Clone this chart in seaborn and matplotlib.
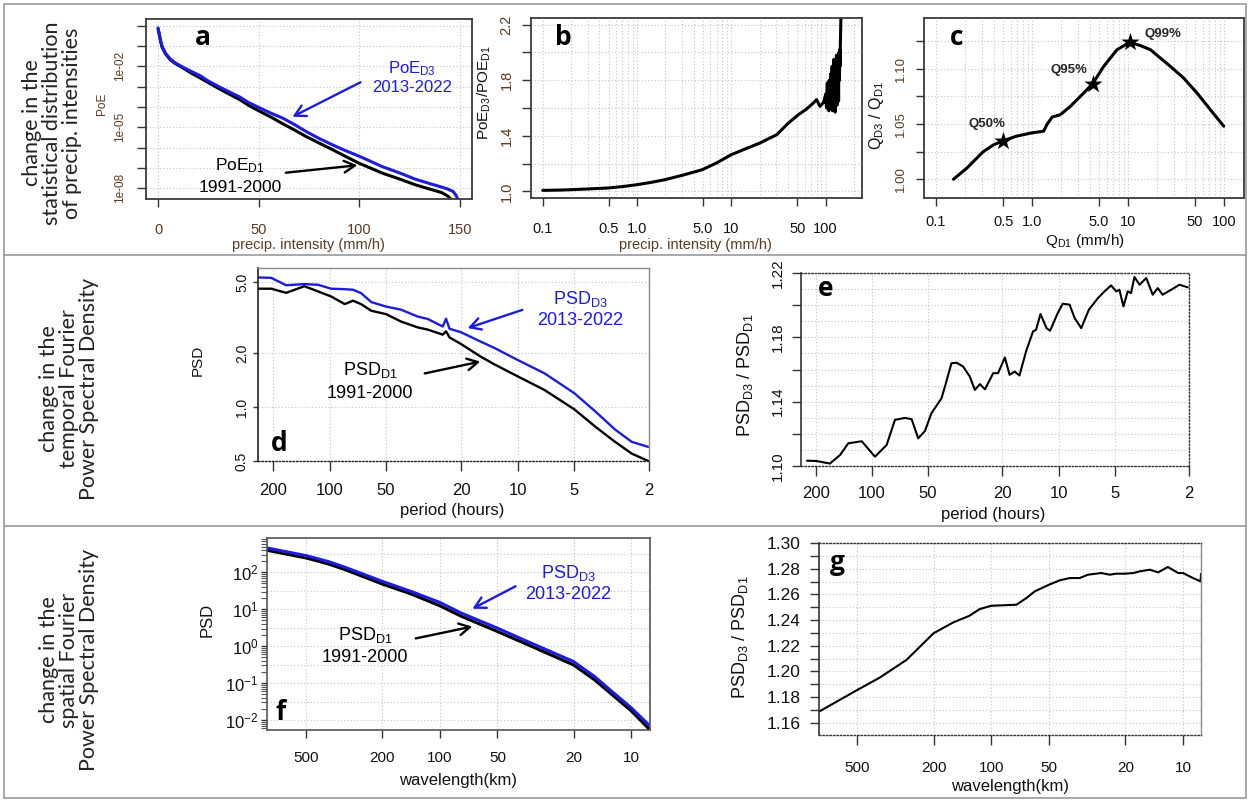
import matplotlib
matplotlib.use("Agg")
import matplotlib.pyplot as plt
import seaborn as sns
from matplotlib.ticker import FixedLocator, FixedFormatter, NullFormatter
from matplotlib.patches import FancyArrowPatch, Rectangle
from matplotlib.lines import Line2D

# ------------------------------------------------------------------ data
# (a) probability of exceedance vs precipitation intensity (mm/h)
a_x_d1 = [0, 0.5, 1.15, 2.0, 3.6, 6.1, 8.6, 11.1, 16, 20.9, 25, 30.7, 35, 40.6, 45, 50, 56, 62, 68,
          73.5, 80, 86.7, 93, 100.3, 106, 111.3, 120, 127.8, 135, 140.9, 144.2, 145.9]
a_poe_d1 = [0.70, 0.40, 0.19, 0.089, 0.043, 0.021, 0.0138, 0.0100, 5.0e-3, 2.7e-3, 1.58e-3, 7.6e-4,
            4.5e-4, 2.3e-4, 1.2e-4, 6.5e-5, 3.2e-5, 1.48e-5, 7.1e-6, 3.5e-6, 1.66e-6, 7.8e-7, 3.7e-7,
            1.6e-7, 9.3e-8, 5.5e-8, 2.8e-8, 1.45e-8, 8.9e-9, 6.0e-9, 3.9e-9, 2.5e-9]
a_x_d3 = [0, 0.5, 1.15, 2.0, 3.6, 6.1, 8.6, 11.1, 16, 20.9, 25, 30.7, 35, 40.6, 45, 50, 56, 62, 68,
          73.5, 80, 86.7, 93, 100.3, 106, 111.3, 120, 127.8, 135, 140.9, 144, 146.6, 148, 149.2]
a_poe_d3 = [0.79, 0.45, 0.21, 0.098, 0.046, 0.023, 0.0148, 0.0107, 6.0e-3, 3.5e-3, 1.9e-3, 9.5e-4,
            5.8e-4, 3.1e-4, 1.66e-4, 9.5e-5, 5.0e-5, 2.8e-5, 1.32e-5, 6.2e-6, 2.8e-6, 1.35e-6, 7.1e-7,
            3.6e-7, 2.0e-7, 1.15e-7, 5.6e-8, 2.75e-8, 1.66e-8, 1.12e-8, 8.9e-9, 6.8e-9, 4.5e-9, 2.5e-9]

# (b) PoE ratio D3/D1 vs intensity
b_x = [0.1, 0.15, 0.2, 0.3, 0.49, 0.7, 1.0, 1.4, 1.98, 3.0, 4.92, 7.0, 10, 14, 20.1, 30.3, 40, 51.4,
       62, 74, 80, 87, 95, 100, 102, 104, 105, 106, 108, 109, 110, 112, 113, 114, 116, 117, 118, 120,
       121, 122, 124, 125, 126, 128, 129, 130, 132, 133, 134, 136, 137, 138, 140, 141, 142, 143, 144,
       145, 146]
b_ratio = [1.007, 1.009, 1.012, 1.017, 1.024, 1.034, 1.048, 1.064, 1.084, 1.115, 1.156, 1.205, 1.264,
           1.305, 1.348, 1.408, 1.49, 1.552, 1.59, 1.636, 1.66, 1.612, 1.64, 1.70, 1.60, 1.78, 1.62,
           1.72, 1.58, 1.80, 1.65, 1.76, 1.60, 1.85, 1.62, 1.90, 1.58, 1.82, 1.66, 1.95, 1.60, 1.88,
           1.57, 1.92, 1.70, 1.98, 1.62, 1.86, 1.75, 1.96, 1.65, 2.00, 1.80, 2.02, 1.90, 2.05, 2.15,
           2.25, 2.32]

# (c) quantile ratio D3/D1 vs quantile D1
c_q = [0.152, 0.209, 0.311, 0.395, 0.495, 0.69, 1.0, 1.32, 1.43, 1.62, 1.97, 2.51, 3.45, 4.28, 5.58,
       7.68, 10.4, 13.5, 17.1, 27.6, 38, 52.4, 72, 99.3]
c_ratio = [1.0, 1.010, 1.025, 1.031, 1.0347, 1.039, 1.042, 1.0435, 1.0495, 1.0563, 1.0584, 1.066,
           1.078, 1.0865, 1.1022, 1.1173, 1.124, 1.121, 1.1173, 1.1022, 1.0916, 1.078, 1.063, 1.048]
c_mark_q = [0.495, 4.28, 10.4]
c_mark_ratio = [1.0347, 1.0865, 1.124]
c_mark_labels = ["Q50%", "Q95%", "Q99%"]

# (d) temporal PSD vs period (hours)
d_period = [238, 204, 170, 136, 115, 98, 83, 75, 68, 60, 50, 41.7, 34, 30, 25, 24, 23, 20, 15.7, 13.3,
            10, 7.2, 5, 3.87, 3.03, 2.47, 2.02]
d_psd_d1 = [4.61, 4.61, 4.37, 4.76, 4.45, 4.17, 3.78, 3.95, 3.78, 3.47, 3.32, 3.02, 2.80, 2.72, 2.55,
            2.66, 2.46, 2.26, 1.92, 1.74, 1.49, 1.25, 0.975, 0.78, 0.64, 0.55, 0.50]
d_psd_d3 = [5.33, 5.30, 4.82, 4.89, 4.85, 4.61, 4.58, 4.55, 4.36, 3.88, 3.66, 3.52, 3.22, 3.12, 2.83,
            3.13, 2.75, 2.63, 2.33, 2.15, 1.84, 1.55, 1.20, 0.95, 0.75, 0.64, 0.60]

# (e) temporal PSD ratio vs period
e_period = [223, 198, 168, 148, 134, 113.5, 96.3, 83.4, 75.3, 66.6, 61.3, 56.5, 52, 48, 42.4, 40.4,
            37.5, 35.2, 32.5, 29.9, 28.1, 26.4, 24.8, 22.4, 21.1, 19.4, 18.3, 17.2, 16.2, 14.9, 13.7,
            13.2, 12.5, 11.6, 11.1, 10.1, 9.5, 8.73, 8.2, 7.56, 6.88, 6.15, 5.67, 5.23, 4.91, 4.72,
            4.49, 4.26, 4.09, 3.92, 3.68, 3.39, 3.13, 2.94, 2.77, 2.49, 2.25, 2.03]
e_ratio = [1.1033, 1.1031, 1.1015, 1.1069, 1.1141, 1.1154, 1.1058, 1.1131, 1.1287, 1.1299, 1.1291,
           1.1172, 1.1218, 1.1328, 1.1421, 1.1504, 1.1639, 1.1642, 1.1619, 1.1556, 1.1473, 1.1509,
           1.1477, 1.1577, 1.1577, 1.1675, 1.1567, 1.1587, 1.1563, 1.1716, 1.1837, 1.1847, 1.1945,
           1.1857, 1.1841, 1.1951, 1.2009, 1.2003, 1.1920, 1.1857, 1.1972, 1.2044, 1.2086, 1.2123,
           1.2086, 1.2096, 1.1992, 1.2086, 1.2075, 1.2175, 1.2127, 1.2169, 1.2065, 1.2106, 1.2065,
           1.2096, 1.2127, 1.2111]

# (f) spatial PSD vs wavelength (km)
f_wl = [802, 500, 382, 313, 200, 141, 100, 77, 50, 34.6, 20, 15.5, 12.7, 10, 7.96]
f_psd_d1 = [395, 245, 168, 118, 48.2, 25.8, 12.4, 6.4, 2.5, 1.09, 0.311, 0.122, 0.0508, 0.0179, 0.0054]
f_psd_d3 = [458, 283, 195, 137, 57, 30.2, 15.3, 7.8, 3.08, 1.32, 0.384, 0.150, 0.0617, 0.0216, 0.0069]

# (g) spatial PSD ratio vs wavelength
g_wl = [792, 500, 382, 277, 200, 158, 130, 115, 100, 74, 65.6, 59.4, 50, 44, 39, 34.6, 31.3, 26.7,
        24.1, 22.3, 20, 18.2, 16.8, 14.9, 13.5, 12.0, 10.6, 10, 8.87, 8.1, 8.06]
g_ratio = [1.1686, 1.1855, 1.1951, 1.2089, 1.2297, 1.2381, 1.2433, 1.2485, 1.2511, 1.2519, 1.2571,
           1.2623, 1.2675, 1.2709, 1.2727, 1.2727, 1.2753, 1.2766, 1.2753, 1.2761, 1.2761, 1.2766,
           1.2779, 1.2792, 1.2771, 1.2813, 1.2766, 1.2766, 1.2727, 1.2701, 1.2760]

row_labels = ["change in the\nstatistical distribution\nof precip. intensities",
              "change in the\ntemporal Fourier\nPower Spectral Density",
              "change in the\nspatial Fourier\nPower Spectral Density"]

# ------------------------------------------------------------------ style
sns.set_theme(style="white")
plt.rcParams['font.family'] = ['Liberation Sans', 'DejaVu Sans']
plt.rcParams['mathtext.fontset'] = 'custom'
plt.rcParams['mathtext.rm'] = 'Liberation Sans'
plt.rcParams['mathtext.it'] = 'Liberation Sans:italic'
plt.rcParams['mathtext.bf'] = 'Liberation Sans:bold'

BLUE = '#1c1cdc'
BROWN = '#5a3a22'
GRID = dict(color='#c4c4c4', lw=0.8, ls=(0, (1, 2)))
W, H = 1249, 801
fig = plt.figure(figsize=(W / 100, H / 100), dpi=100)
fig.patch.set_facecolor('white')


def fx(x):
    return x / W


def fy(y):
    return 1 - y / H


def add_ax(l, t, r, b):
    ax = fig.add_axes([l / W, 1 - b / H, (r - l) / W, (b - t) / H])
    ax.set_facecolor('white')
    ax._box = (l, t, r, b)
    return ax


def set_labels(ax, xlabel, xpos, ylabel, ypos, xsize, ysize, xcolor='#111', ycolor='#111'):
    l, t, r, b = ax._box
    ax.set_xlabel(xlabel, fontsize=xsize, color=xcolor)
    ax.xaxis.set_label_coords((xpos[0] - l) / (r - l), (b - xpos[1]) / (b - t))
    ax.xaxis.label.set_va('center')
    ax.set_ylabel(ylabel, fontsize=ysize, color=ycolor)
    ax.yaxis.set_label_coords((ypos[0] - l) / (r - l), (b - ypos[1]) / (b - t))
    ax.yaxis.label.set_va('center')


def rot_yticks(ax):
    for lab in ax.get_yticklabels():
        lab.set_rotation(90)
        lab.set_va('center')
        lab.set_ha('right')


def spines(ax, color='#3a3a3a', lw=1.3):
    for s in ax.spines.values():
        s.set_visible(True)
        s.set_color(color)
        s.set_linewidth(lw)


def panel_letter(s, x, y):
    fig.text(fx(x), fy(y), s, fontsize=19, fontweight='bold', family=['Open Sans', 'DejaVu Sans'],
             ha='left', va='baseline', color='black')


def two_line(x, y1, s1, y2, s2, color, size=13):
    fig.text(fx(x), fy(y1), s1, ha='center', va='baseline', fontsize=size, color=color)
    fig.text(fx(x), fy(y2), s2, ha='center', va='baseline', fontsize=size, color=color)


def arrow(x0, y0, x1, y1, color):
    fig.add_artist(FancyArrowPatch((fx(x0), fy(y0)), (fx(x1), fy(y1)), transform=fig.transFigure,
                                   arrowstyle='->,head_length=0.55,head_width=0.3', mutation_scale=14,
                                   color=color, lw=1.7))


def line(ax, x, y, color, lw):
    sns.lineplot(x=x, y=y, ax=ax, color=color, lw=lw, estimator=None, sort=False)


log_minor_01 = [v * m for m in (0.1, 1, 10, 100) for v in range(1, 10)] + [1000]

# ------------------------------------------------------------------ panel a
ax = add_ax(146, 19, 472, 199)
line(ax, a_x_d1, a_poe_d1, 'black', 2.2)
line(ax, a_x_d3, a_poe_d3, BLUE, 2.2)
ax.set_yscale('log')
ax.set_xlim(-6, 156)
ax.set_ylim(10 ** -8.54, 10 ** 0.34)
ax.xaxis.set_major_locator(FixedLocator([0, 50, 100, 150]))
ydec = [10.0 ** k for k in range(-8, 1)]
ax.yaxis.set_major_locator(FixedLocator(ydec))
ax.yaxis.set_major_formatter(FixedFormatter(['1e-08' if k == -8 else '1e-05' if k == -5 else
                                             '1e-02' if k == -2 else '' for k in range(-8, 1)]))
ax.yaxis.set_minor_locator(FixedLocator([]))
ax.grid(True, which='major', **GRID)
spines(ax)
ax.tick_params(axis='x', direction='out', length=6, width=1, color='#333', labelsize=10.5,
               labelcolor=BROWN, pad=11, bottom=True)
ax.tick_params(axis='y', direction='out', length=6.5, width=1, color='#333', labelsize=8.5,
               labelcolor=BROWN, pad=8, left=True)
rot_yticks(ax)
set_labels(ax, 'precip. intensity (mm/h)', (308, 245), 'PoE', (102, 104), 10.5, 8.5, BROWN, BROWN)
panel_letter('a', 195, 45)
two_line(412, 73, r'PoE$_{\mathrm{D3}}$', 92, '2013-2022', BLUE, 12)
arrow(363, 81, 290, 118, BLUE)
two_line(240, 170, r'PoE$_{\mathrm{D1}}$', 192, '1991-2000', 'black', 12.5)
arrow(283, 173, 360, 165, 'black')

# ------------------------------------------------------------------ panel b
logticks = [0.1, 0.5, 1, 5, 10, 50, 100]
logtick_labels = ['0.1', '0.5', '1.0', '5.0', '10', '50', '100']
ax = add_ax(531, 18, 862, 198)
line(ax, b_x, b_ratio, 'black', 2.2)
ax.set_xscale('log')
ax.set_xlim(10 ** -1.124, 10 ** 2.385)
ax.set_ylim(0.952, 2.248)
ax.xaxis.set_major_locator(FixedLocator(logticks))
ax.xaxis.set_major_formatter(FixedFormatter(logtick_labels))
ax.xaxis.set_minor_locator(FixedLocator(log_minor_01))
ax.xaxis.set_minor_formatter(NullFormatter())
ax.yaxis.set_major_locator(FixedLocator([1.0, 1.2, 1.4, 1.6, 1.8, 2.0, 2.2]))
ax.yaxis.set_major_formatter(FixedFormatter(['1.0', '', '1.4', '', '1.8', '', '2.2']))
ax.grid(True, which='both', **GRID)
spines(ax)
ax.tick_params(axis='x', which='major', direction='out', length=6, width=1, color='#333',
               labelsize=10.5, labelcolor='#111', pad=11, bottom=True)
ax.tick_params(axis='x', which='minor', length=0)
ax.tick_params(axis='y', direction='out', length=6.5, width=1, color='#333', labelsize=10.5,
               labelcolor=BROWN, pad=6, left=True)
rot_yticks(ax)
set_labels(ax, 'precip. intensity (mm/h)', (695, 245), r'PoE$_{\mathrm{D3}}$/POE$_{\mathrm{D1}}$',
           (484, 93), 10.5, 11, BROWN, '#111')
panel_letter('b', 555, 45)

# ------------------------------------------------------------------ panel c
ax = add_ax(924, 18, 1244, 198)
line(ax, c_q, c_ratio, 'black', 2.2)
sns.scatterplot(x=c_mark_q, y=c_mark_ratio, ax=ax, marker='*', s=190, color='black', linewidth=0,
                zorder=5)
offsets = [(-16, 17), (-24, 14), (33, 8)]
for q, r, lab, off in zip(c_mark_q, c_mark_ratio, c_mark_labels, offsets):
    ax.annotate(lab, (q, r), xytext=off, textcoords='offset pixels', ha='center', va='center',
                fontsize=9.5, fontweight='bold')
ax.set_xscale('log')
ax.set_xlim(10 ** -1.125, 10 ** 2.208)
ax.set_ylim(0.983, 1.146)
ax.xaxis.set_major_locator(FixedLocator(logticks))
ax.xaxis.set_major_formatter(FixedFormatter(logtick_labels))
ax.xaxis.set_minor_locator(FixedLocator(log_minor_01))
ax.xaxis.set_minor_formatter(NullFormatter())
ax.yaxis.set_major_locator(FixedLocator([1.00, 1.025, 1.05, 1.075, 1.10, 1.125]))
ax.yaxis.set_major_formatter(FixedFormatter(['1.00', '', '1.05', '', '1.10', '']))
ax.grid(True, which='both', **GRID)
spines(ax)
ax.tick_params(axis='x', which='major', direction='out', length=6, width=1, color='#333',
               labelsize=10.5, labelcolor='#111', pad=6, bottom=True)
ax.tick_params(axis='x', which='minor', length=0)
ax.tick_params(axis='y', direction='out', length=6, width=1, color='#333', labelsize=9.5,
               labelcolor=BROWN, pad=6, left=True)
rot_yticks(ax)
set_labels(ax, r'Q$_{\mathrm{D1}}$ (mm/h)', (1085, 241), r'Q$_{\mathrm{D3}}$ / Q$_{\mathrm{D1}}$',
           (877, 115), 11, 11.5)
panel_letter('c', 950, 45)

# ------------------------------------------------------------------ panel d
per_ticks = [200, 100, 50, 20, 10, 5, 2]
ax = add_ax(258, 268, 649, 461)
line(ax, d_period, d_psd_d1, 'black', 1.7)
line(ax, d_period, d_psd_d3, BLUE, 1.7)
ax.set_xscale('log')
ax.set_yscale('log')
ax.set_xlim(240, 2)
ax.set_ylim(0.5, 6.02)
ax.xaxis.set_major_locator(FixedLocator(per_ticks))
ax.xaxis.set_major_formatter(FixedFormatter([str(v) for v in per_ticks]))
ax.xaxis.set_minor_locator(FixedLocator([]))
ax.yaxis.set_major_locator(FixedLocator([0.5, 1.0, 2.0, 5.0]))
ax.yaxis.set_major_formatter(FixedFormatter(['0.5', '1.0', '2.0', '5.0']))
ax.yaxis.set_minor_locator(FixedLocator([]))
ax.grid(True, which='major', **GRID)
spines(ax, '#8a8a8a', 1.0)
ax.spines['left'].set_color('#222')
ax.spines['left'].set_linewidth(1.2)
ax.spines['bottom'].set_color('#222')
ax.spines['bottom'].set_linestyle((0, (1, 1.5)))
ax.tick_params(axis='x', direction='out', length=7.5, width=1, color='#333', labelsize=12,
               labelcolor='#111', pad=8, bottom=True)
ax.tick_params(axis='y', direction='out', length=3.5, width=1, color='#333', labelsize=10,
               labelcolor='#111', pad=3, left=True)
rot_yticks(ax)
set_labels(ax, 'period (hours)', (452, 510), 'PSD', (198, 360), 12, 11)
panel_letter('d', 271, 451)
two_line(580, 304, r'PSD$_{\mathrm{D3}}$', 325, '2013-2022', BLUE, 13)
arrow(525, 309, 465, 329, BLUE)
two_line(370, 375, r'PSD$_{\mathrm{D1}}$', 398, '1991-2000', 'black', 13)
arrow(422, 374, 483, 361, 'black')

# ------------------------------------------------------------------ panel e
ax = add_ax(801, 273, 1189, 466)
line(ax, e_period, e_ratio, 'black', 1.5)
ax.set_xscale('log')
ax.set_xlim(240, 2)
ax.set_ylim(1.10, 1.22)
ax.xaxis.set_major_locator(FixedLocator(per_ticks))
ax.xaxis.set_major_formatter(FixedFormatter([str(v) for v in per_ticks]))
ax.xaxis.set_minor_locator(FixedLocator([]))
ax.yaxis.set_major_locator(FixedLocator([1.10, 1.12, 1.14, 1.16, 1.18, 1.20, 1.22]))
ax.yaxis.set_major_formatter(FixedFormatter(['1.10', '', '1.14', '', '1.18', '', '1.22']))
ax.yaxis.set_minor_locator(FixedLocator([1.11, 1.13, 1.15, 1.17, 1.19, 1.21]))
ax.yaxis.set_minor_formatter(NullFormatter())
ax.grid(True, which='both', **GRID)
spines(ax, '#333', 1.0)
for s in ('top', 'right', 'bottom'):
    ax.spines[s].set_linestyle((0, (1, 1.5)))
ax.spines['left'].set_linewidth(1.2)
ax.tick_params(axis='x', direction='out', length=7.5, width=1, color='#333', labelsize=12,
               labelcolor='#111', pad=7, bottom=True)
ax.tick_params(axis='y', which='major', direction='out', length=6.5, width=1, color='#333',
               labelsize=11, labelcolor='#111', pad=5, left=True)
ax.tick_params(axis='y', which='minor', length=0)
rot_yticks(ax)
set_labels(ax, 'period (hours)', (993, 515), r'PSD$_{\mathrm{D3}}$ / PSD$_{\mathrm{D1}}$',
           (745, 375), 12, 13)
panel_letter('e', 818, 296)

# ------------------------------------------------------------------ panel f
wl_ticks = [500, 200, 100, 50, 20, 10]
ax = add_ax(267, 538, 650, 730)
line(ax, f_wl, f_psd_d1, 'black', 2.2)
line(ax, f_wl, f_psd_d3, BLUE, 2.2)
ax.set_xscale('log')
ax.set_yscale('log')
ax.set_xlim(802, 7.96)
ax.set_ylim(10 ** -2.27, 10 ** 2.93)
ax.xaxis.set_major_locator(FixedLocator(wl_ticks))
ax.xaxis.set_major_formatter(FixedFormatter([str(v) for v in wl_ticks]))
ax.xaxis.set_minor_locator(FixedLocator([]))
f_dec = [-2, -1, 0, 1, 2]
ax.yaxis.set_major_locator(FixedLocator([10.0 ** k for k in f_dec]))
ax.yaxis.set_major_formatter(FixedFormatter([r'$10^{%d}$' % k for k in f_dec]))
ax.yaxis.set_minor_locator(FixedLocator([m * 10.0 ** k for k in range(-3, 3) for m in range(2, 10)]))
ax.yaxis.set_minor_formatter(NullFormatter())
ax.grid(True, which='major', **GRID)
for k in range(-3, 3):
    ax.axhline(3.16 * 10.0 ** k, **GRID, zorder=0)
spines(ax, '#555', 1.2)
ax.tick_params(axis='x', direction='out', length=6, width=1, color='#333', labelsize=11,
               labelcolor='#111', pad=9, bottom=True)
ax.tick_params(axis='y', which='major', direction='out', length=4, width=1, color='#333',
               labelsize=12, labelcolor='#111', pad=2, left=True)
ax.tick_params(axis='y', which='minor', direction='out', length=4, width=0.8, color='#555', left=True)
set_labels(ax, 'wavelength(km)', (458, 780), 'PSD', (207, 620), 12, 12)
panel_letter('f', 275, 720)
two_line(568, 578, r'PSD$_{\mathrm{D3}}$', 599, '2013-2022', BLUE, 13)
arrow(518, 585, 470, 610, BLUE)
two_line(365, 640, r'PSD$_{\mathrm{D1}}$', 662, '1991-2000', 'black', 13)
arrow(413, 639, 475, 626, 'black')

# ------------------------------------------------------------------ panel g
ax = add_ax(819, 543, 1201, 735)
line(ax, g_wl, g_ratio, 'black', 1.5)
ax.set_xscale('log')
ax.set_xlim(792, 8.06)
ax.set_ylim(1.1504, 1.30)
ax.xaxis.set_major_locator(FixedLocator(wl_ticks))
ax.xaxis.set_major_formatter(FixedFormatter([str(v) for v in wl_ticks]))
ax.xaxis.set_minor_locator(FixedLocator([]))
g_major = [1.16, 1.18, 1.20, 1.22, 1.24, 1.26, 1.28, 1.30]
ax.yaxis.set_major_locator(FixedLocator(g_major))
ax.yaxis.set_major_formatter(FixedFormatter(['%.2f' % v for v in g_major]))
ax.yaxis.set_minor_locator(FixedLocator([1.17, 1.19, 1.21, 1.23, 1.25, 1.27, 1.29]))
ax.yaxis.set_minor_formatter(NullFormatter())
ax.grid(True, which='both', **GRID)
spines(ax, '#333', 1.0)
ax.spines['top'].set_linestyle((0, (1, 1.5)))
ax.spines['bottom'].set_linestyle((0, (1, 1.5)))
ax.spines['right'].set_color('#8a8a8a')
ax.spines['left'].set_linewidth(1.2)
ax.tick_params(axis='x', direction='out', length=7.5, width=1, color='#333', labelsize=11,
               labelcolor='#111', pad=11, bottom=True)
ax.tick_params(axis='y', which='both', direction='out', length=6.5, width=1, color='#333',
               labelsize=12.5, labelcolor='#111', pad=7, left=True)
set_labels(ax, 'wavelength(km)', (1010, 786), r'PSD$_{\mathrm{D3}}$ / PSD$_{\mathrm{D1}}$',
           (740, 637), 12, 13)
panel_letter('g', 830, 570)

# ------------------------------------------------------------------ frame & row labels
fig.add_artist(Rectangle((fx(4), fy(798)), fx(1246) - fx(4), fy(4) - fy(798), transform=fig.transFigure,
                         fill=False, ec='#9a9a9a', lw=1.2))
for yy in (255, 526):
    fig.add_artist(Line2D([fx(4), fx(1246)], [fy(yy), fy(yy)], transform=fig.transFigure,
                          color='#9a9a9a', lw=1.2))
row_pos = [(52, 123), (69, 389), (69, 660)]
for txt, (xx, yy) in zip(row_labels, row_pos):
    fig.text(fx(xx), fy(yy), txt, rotation=90, ha='center', va='center', multialignment='center',
             fontsize=15.5, family=['Lato', 'DejaVu Sans'], color='#222', linespacing=1.0)

fig.savefig('out.png', dpi=100, facecolor='white')
